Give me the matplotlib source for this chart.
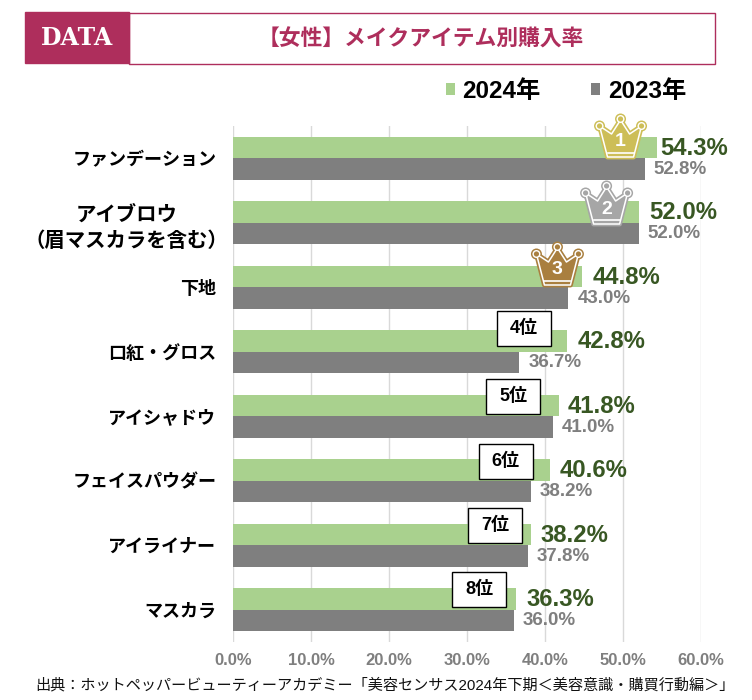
import matplotlib
matplotlib.use('Agg')
import matplotlib.pyplot as plt
from matplotlib.patches import Polygon, Rectangle, Circle
from matplotlib.transforms import Affine2D

plt.rcParams['font.family'] = ['Liberation Sans', 'Noto Sans CJK JP', 'DejaVu Sans']

categories = ['ファンデーション', 'アイブロウ\n（眉マスカラを含む）', '下地', '口紅・グロス',
              'アイシャドウ', 'フェイスパウダー', 'アイライナー', 'マスカラ']
values_2024 = [54.3, 52.0, 44.8, 42.8, 41.8, 40.6, 38.2, 36.3]
values_2023 = [52.8, 52.0, 43.0, 36.7, 41.0, 38.2, 37.8, 36.0]
series_names = ['2024年', '2023年']
x_ticks = [0, 10, 20, 30, 40, 50, 60]
ranks = ['4位', '5位', '6位', '7位', '8位']
crown_colors = ['#CDBE57', '#A6A6A6', '#A97F3F']

GREEN = '#A9D18E'
GREY = '#7F7F7F'
DARK_GREEN = '#385723'
TITLE_RED = '#AE2E5C'
W, H = 752, 700

fig = plt.figure(figsize=(W / 100, H / 100), dpi=100)

# main chart, placed in pixels
ax = fig.add_axes([233 / W, 1 - 642 / H, (701 - 233) / W, (642 - 126) / H])
ypos = list(range(len(categories)))
bar_h = 0.335
bars_a = ax.barh([y - bar_h / 2 for y in ypos], values_2024, height=bar_h, color=GREEN, label=series_names[0], zorder=2)
bars_b = ax.barh([y + bar_h / 2 for y in ypos], values_2023, height=bar_h, color=GREY, label=series_names[1], zorder=2)
ax.set_xlim(0, 60)
ax.set_ylim(len(categories) - 0.5, -0.5)
ax.set_xticks(x_ticks)
ax.set_xticklabels([f'{t:.1f}%' for t in x_ticks], color='#7F7F7F', fontsize=12, fontweight='bold')
ax.set_yticks(ypos)
ax.set_yticklabels(categories, fontsize=13, fontweight='bold', linespacing=1.45, ha='right', multialignment='center')
ax.tick_params(axis='both', length=0)
ax.tick_params(axis='x', pad=8)
ax.tick_params(axis='y', pad=12)
ax.grid(axis='x', color='#D9D9D9', linewidth=1, zorder=0)
for s in ax.spines.values():
    s.set_visible(False)

# the two-line label is set larger and sits a little further right
long_label = ax.get_yticklabels()[1]
long_label.set_fontsize(14.7)
long_label.set_transform(long_label.get_transform() + Affine2D().translate(12, 0))

green_gap = [4, 11, 10, 11, 9, 10, 10, 10]
for i, (a, b) in enumerate(zip(values_2024, values_2023)):
    ax.annotate(f'{a:.1f}%', (a, i - bar_h / 2), xytext=(green_gap[i], -1), textcoords='offset pixels', va='center',
                fontsize=17.2, fontweight='bold', color=DARK_GREEN, zorder=5)
    ax.annotate(f'{b:.1f}%', (b, i + bar_h / 2), xytext=(9, 0), textcoords='offset pixels', va='center',
                fontsize=13.5, fontweight='bold', color=GREY, zorder=5)

# overlay in image pixels for the header, crowns and rank boxes
ov = fig.add_axes([0, 0, 1, 1], facecolor='none')
ov.set_xlim(0, W)
ov.set_ylim(H, 0)
ov.axis('off')

ov.add_patch(Rectangle((128.5, 12.5), 586, 51, fill=False, edgecolor=TITLE_RED, linewidth=1))
ov.add_patch(Rectangle((25, 12), 104, 51, color=TITLE_RED))
ov.text(77, 38, 'DATA', color='white', fontsize=17, fontweight='bold', family='DejaVu Serif', ha='center', va='center')
ov.text(421, 40, '【女性】メイクアイテム別購入率', color=TITLE_RED, fontsize=15.7, fontweight='bold',
        ha='center', va='center')

ov.text(385, 685, '出典：ホットペッパービューティーアカデミー「美容センサス2024年下期＜美容意識・購買行動編＞」',
        fontsize=10.9, ha='center', va='center', color='#111111')


def bar_end_px(value, row):
    return ax.transData.transform((value, row))[0]


def draw_crown(cx, top, color, label):
    pts = [(-13, 42), (-21, 11), (-9, 19), (0, 5), (9, 19), (21, 11), (13, 42)]
    xy = [(cx + px, top + py) for px, py in pts]
    # coloured rim outside the white stroke
    ov.add_patch(Polygon(xy, closed=True, facecolor=color, edgecolor=color, linewidth=3.5, zorder=6, joinstyle='round'))
    for px, py in [(-21, 11), (0, 4), (21, 11)]:
        ov.add_patch(Circle((cx + px, top + py), 5.5, facecolor=color, edgecolor='none', zorder=6))
    ov.add_patch(Polygon(xy, closed=True, facecolor=color, edgecolor='white', linewidth=1.1, zorder=7, joinstyle='round'))
    for px, py in [(-21, 11), (0, 4), (21, 11)]:
        ov.add_patch(Circle((cx + px, top + py), 3.3, facecolor=color, edgecolor='white', linewidth=1.0, zorder=8))
    ov.plot([cx - 13, cx + 13], [top + 38, top + 38], color='white', linewidth=1.2, zorder=8)
    ov.text(cx, top + 27, label, color='white', fontsize=14, fontweight='bold', ha='center', va='center', zorder=9)


crown_offsets = [36, 32, 25]
crown_tops = [115, 182, 243]
for i in range(3):
    draw_crown(bar_end_px(values_2024[i], i) - crown_offsets[i], crown_tops[i], crown_colors[i], str(i + 1))

box_right_gap = [16, 19, 17, 9, 10]
box_tops = [311, 379, 444, 508, 572]
for i, (rank, gap, top) in enumerate(zip(ranks, box_right_gap, box_tops)):
    right = bar_end_px(values_2024[i + 3], i + 3) - gap
    ov.add_patch(Rectangle((right - 54, top), 54, 35, facecolor='white', edgecolor='black', linewidth=1, zorder=6))
    ov.text(right - 27, top + 17, rank, fontsize=13, fontweight='bold', ha='center', va='center', zorder=7)

leg = fig.legend(handles=[bars_a, bars_b], loc='center left', bbox_to_anchor=(424 / W, 1 - 91 / H), ncols=2,
                 frameon=False, prop={'size': 17.5, 'weight': 'bold'}, handlelength=0.37, handleheight=0.37,
                 handletextpad=0.3, columnspacing=2.1)

fig.savefig('out.png', dpi=100)
